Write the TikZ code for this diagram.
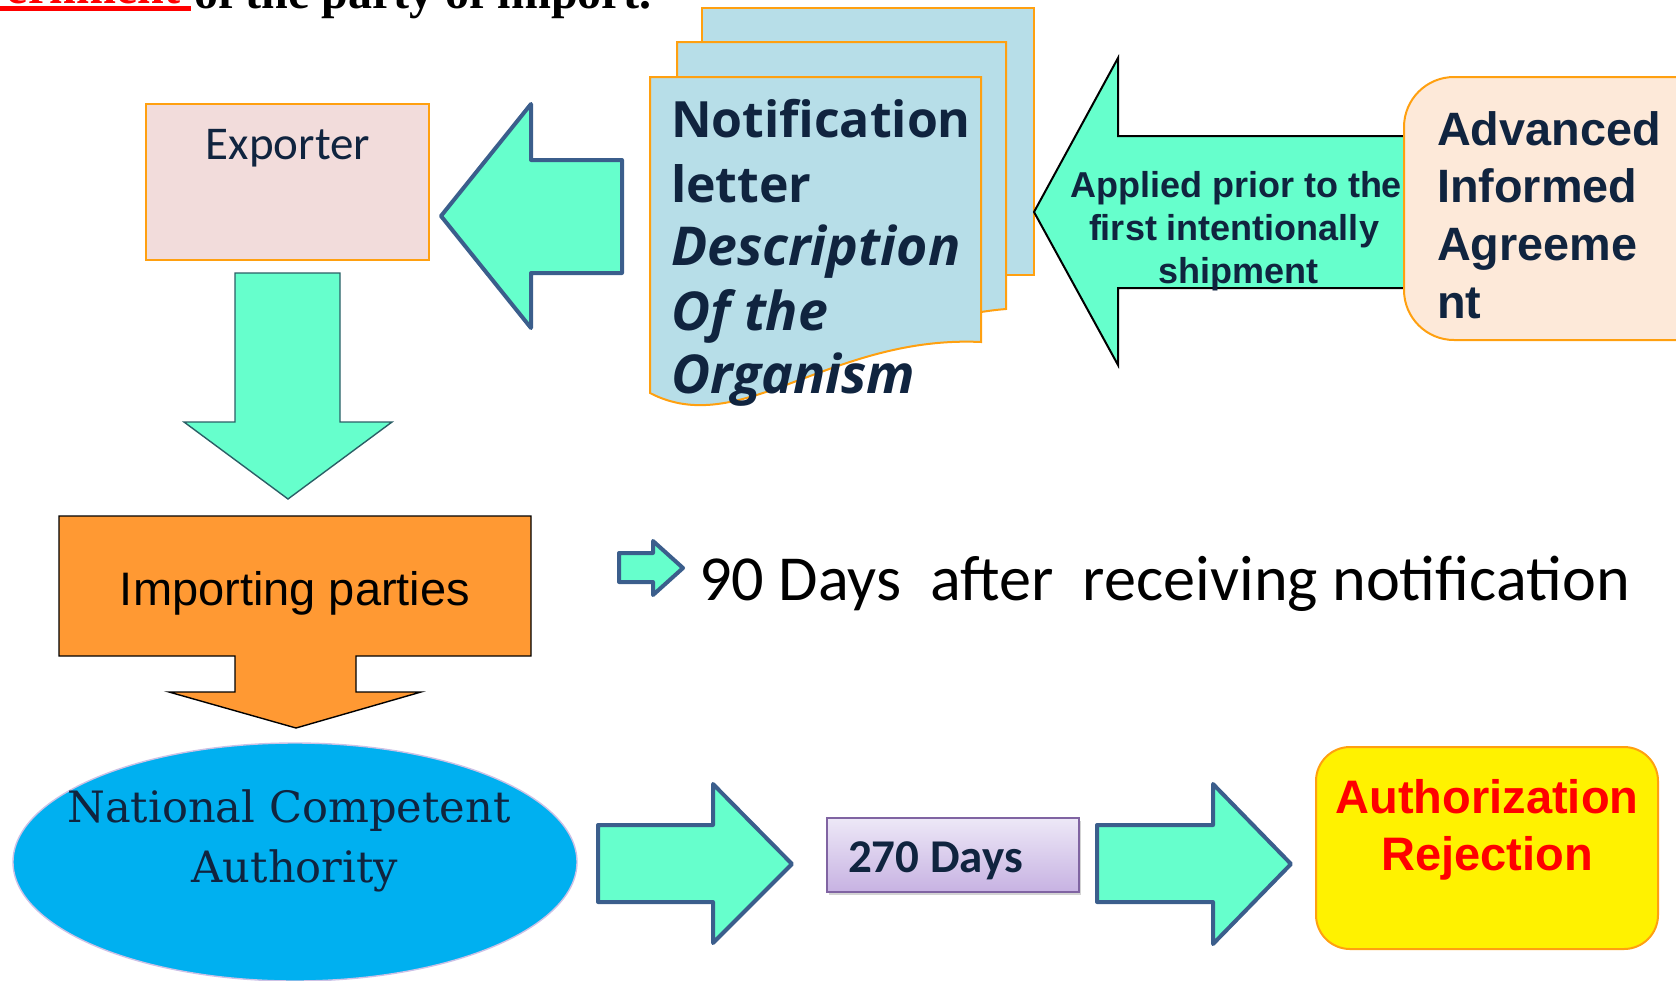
\documentclass[tikz,border=0pt]{standalone}
\usepackage{fontspec}
\setmainfont{Liberation Sans}
\newfontfamily\serifbf{Liberation Serif}
\newfontfamily\calib{Carlito}
\newfontfamily\segoe{Open Sans}
\newfontfamily\slab{DejaVu Serif}
\usetikzlibrary{shadows}
\definecolor{mint}{HTML}{66FFCC}
\definecolor{bluebd}{HTML}{3B5E8C}
\definecolor{tealbd}{HTML}{2B5F66}
\definecolor{navy}{HTML}{10243F}
\definecolor{orangebd}{HTML}{FFA010}
\definecolor{pinkfill}{HTML}{F2DCDB}
\definecolor{docfill}{HTML}{B7DEE8}
\definecolor{peach}{HTML}{FDE9D9}
\definecolor{impfill}{HTML}{FF9933}
\definecolor{ncafill}{HTML}{00B0F0}
\definecolor{ncabd}{HTML}{CCC1E6}
\definecolor{lavtop}{HTML}{EDE8F7}
\definecolor{lavbot}{HTML}{C7B2E2}
\definecolor{purpbd}{HTML}{8064A2}
\tikzset{
  bluearrow/.style={fill=mint, draw=bluebd, line width=2pt, line join=round},
  docpage/.style={fill=docfill, draw=orangebd, line width=1pt},
  txt/.style={inner sep=0pt, outer sep=0pt},
}
\begin{document}
\begin{tikzpicture}[x=0.5pt,y=-0.5pt]
\useasboundingbox (0,0) rectangle (1676,980);
\clip (0,0) rectangle (1676,980);

% top cut-off heading
\fill[red] (0,6) rectangle (191,11);
\node[txt, anchor=base east, text=red] (gov) at (180,3) {\serifbf\bfseries\fontsize{24}{28}\selectfont Government};
\node[txt, anchor=base west] (party) at (194,8) {\serifbf\bfseries\fontsize{24}{28}\selectfont of the party of import.};

% Exporter
\draw[fill=pinkfill, draw=orangebd, line width=1pt] (146,104) rectangle (429,260);
\node[txt, anchor=base, text=navy] (exporter) at (288,159) {\calib\fontsize{23.5}{28}\selectfont Exporter};

% down arrow from exporter
\draw[fill=mint, draw=tealbd, line width=0.7pt] (235,273) -- (340,273) -- (340,422) -- (392,422) -- (288,499) -- (184,422) -- (235,422) -- cycle;

% left arrow (notification -> exporter)
\draw[bluearrow] (622,160) -- (531,160) -- (531,104) -- (441,216) -- (531,328) -- (531,273) -- (622,273) -- cycle;

% document stack
\draw[docpage] (702,8) -- (1034,8) -- (1034,275) -- (702,275) -- cycle;
\draw[docpage] (677,42) -- (1006,42) -- (1006,309) .. controls (995,310) .. (981,312) -- (677,312) -- cycle;
\draw[docpage] (650,77) -- (981,77) -- (981,342) .. controls (830,335) and (740,440) .. (650,393) -- cycle;
\begin{scope}[text=navy]
\node[txt, anchor=base west] (n1) at (671,137) {\segoe\bfseries\fontsize{25}{30}\selectfont Notification};
\node[txt, anchor=base west] (n2) at (671,202) {\segoe\bfseries\fontsize{25}{30}\selectfont letter};
\node[txt, anchor=base west] (n3) at (671,265) {\segoe\bfseries\itshape\fontsize{26.8}{30}\selectfont Description};
\node[txt, anchor=base west] (n4) at (671,330) {\segoe\bfseries\itshape\fontsize{26.8}{30}\selectfont Of the};
\node[txt, anchor=base west] (n5) at (671,393) {\segoe\bfseries\itshape\fontsize{26.8}{30}\selectfont Organism};
\end{scope}

% big left arrow (AIA -> notification)
\draw[fill=mint, draw=black, line width=1pt] (1440,136) -- (1118,136) -- (1118,58) -- (1034,212) -- (1118,365) -- (1118,288) -- (1440,288) -- cycle;
\begin{scope}[text=navy]
\node[txt, anchor=base] (ap1) at (1236,197) {\bfseries\fontsize{18}{21}\selectfont Applied prior to the};
\node[txt, anchor=base] (ap2) at (1234,240) {\bfseries\fontsize{18}{21}\selectfont first intentionally};
\node[txt, anchor=base] (ap3) at (1238,283) {\bfseries\fontsize{18}{21}\selectfont shipment};
\end{scope}

% Advanced Informed Agreement box
\draw[fill=peach, draw=orangebd, line width=1pt, rounded corners=25pt] (1404,77) rectangle (1740,340);
\begin{scope}[text=navy]
\node[txt, anchor=base west] (a1) at (1437,145) {\bfseries\fontsize{23.4}{28}\selectfont Advanced};
\node[txt, anchor=base west] (a2) at (1437,202) {\bfseries\fontsize{23.4}{28}\selectfont Informed};
\node[txt, anchor=base west] (a3) at (1437,260) {\bfseries\fontsize{23.4}{28}\selectfont Agreeme};
\node[txt, anchor=base west] (a4) at (1437,318) {\bfseries\fontsize{23.4}{28}\selectfont nt};
\end{scope}

% 90 days line
\draw[bluearrow] (619,553) -- (653,553) -- (653,541) -- (683,568) -- (653,595) -- (653,582) -- (619,582) -- cycle;
\node[txt, anchor=base west] (ninety) at (699,600) {\calib\fontsize{32.1}{36}\selectfont 90 Days\ \ after\ \ receiving notification};

% Importing parties
\draw[fill=impfill, draw=black, line width=0.7pt] (59,516) -- (531,516) -- (531,656) -- (356,656) -- (356,692) -- (421,692) -- (296,728) -- (169,692) -- (235,692) -- (235,656) -- (59,656) -- cycle;
\node[txt, anchor=base] (imp) at (295,605) {\fontsize{23.5}{28}\selectfont Importing parties};

% National Competent Authority
\draw[fill=ncafill, draw=ncabd, line width=0.7pt] (295,862) ellipse [x radius=141pt, y radius=59.5pt];
\node[txt, anchor=base, text=navy] (nca1) at (289,822) {\slab\fontsize{21.6}{26}\selectfont National Competent};
\node[txt, anchor=base, text=navy] (nca2) at (295,882) {\slab\fontsize{21.6}{26}\selectfont Authority};

% bottom arrows
\draw[bluearrow] (598,825) -- (713,825) -- (713,784) -- (792,864) -- (713,943) -- (713,902) -- (598,902) -- cycle;
\draw[bluearrow] (1097,825) -- (1213,825) -- (1213,784) -- (1291,864) -- (1213,944) -- (1213,902) -- (1097,902) -- cycle;

% 270 days box
\draw[top color=lavtop, bottom color=lavbot, draw=purpbd, line width=0.7pt, drop shadow={opacity=0.35, shadow xshift=1pt, shadow yshift=-1.5pt}] (827,818) rectangle (1079,892);
\node[txt, anchor=base west, text=navy] (days) at (848,872) {\calib\bfseries\fontsize{23.5}{28}\selectfont 270 Days};

% Authorization / Rejection
\draw[fill=yellow, draw=orangebd, line width=1pt, rounded corners=17pt] (1316,747) rectangle (1658,949);
\node[txt, anchor=base, text=red] (auth1) at (1487,813) {\bfseries\fontsize{23.5}{28}\selectfont Authorization};
\node[txt, anchor=base, text=red] (auth2) at (1487,870) {\bfseries\fontsize{23.5}{28}\selectfont Rejection};
\end{tikzpicture}
\end{document}
